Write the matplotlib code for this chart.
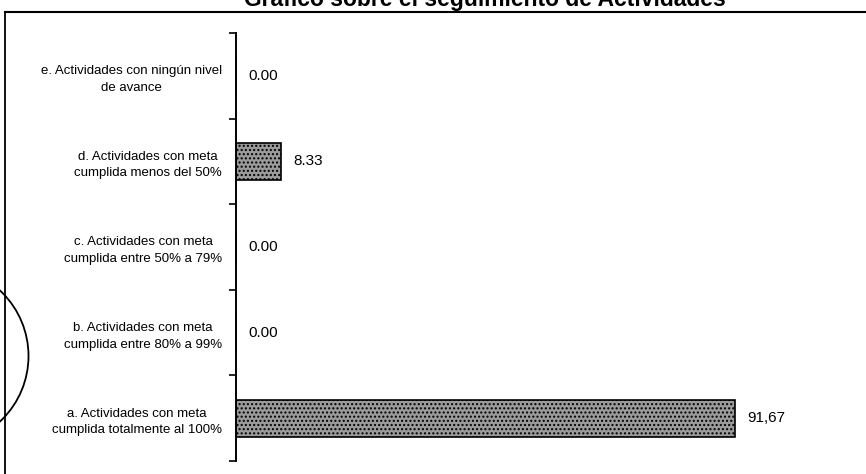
import matplotlib.pyplot as plt
import matplotlib.patches as patches
from matplotlib.lines import Line2D

plt.rcParams['font.family'] = ['Liberation Sans', 'DejaVu Sans']

categorias = ['a. Actividades con meta\ncumplida totalmente al 100%',
              'b. Actividades con meta\ncumplida entre 80% a 99%',
              'c. Actividades con meta\ncumplida entre 50% a 79%',
              'd. Actividades con meta\ncumplida menos del 50%',
              'e. Actividades con ningún nivel\nde avance']
porcentajes = [91.67, 0.00, 0.00, 8.33, 0.00]
etiquetas = ['91,67', '0.00', '0.00', '8.33', '0.00']

W, H = 866, 474
f = plt.figure(figsize=(W / 100, H / 100), dpi=100)
ax = f.add_axes([236 / W, 13 / H, 544 / W, 428 / H])

pos = list(range(len(categorias)))
ax.barh(pos, porcentajes, height=0.43, color='#9b9b9b', edgecolor='black',
        linewidth=1.2, hatch='....')
for y, v, t in zip(pos, porcentajes, etiquetas):
    ax.annotate(t, xy=(v, y), xytext=(9, 0), textcoords='offset points',
                va='center', ha='left', fontsize=11)

ax.set_xlim(0, 100)
ax.set_ylim(-0.5, len(categorias) - 0.5)
ax.set_yticks(pos)
ax.set_yticklabels(categorias, fontsize=9.5, multialignment='center', linespacing=1.5)
ax.set_yticks([p + 0.5 for p in pos[:-1]] + [-0.5, len(categorias) - 0.5], minor=True)
ax.tick_params(axis='y', which='major', length=0, pad=10)
ax.tick_params(axis='y', which='minor', length=5, width=1.2, direction='out')
ax.set_xticks([])
for s in ['top', 'right', 'bottom']:
    ax.spines[s].set_visible(False)
ax.spines['left'].set_linewidth(1.4)

# marco exterior
f.add_artist(Line2D([5 / W, 1], [1 - 12 / H, 1 - 12 / H], color='black', lw=1.5))
f.add_artist(Line2D([5 / W, 5 / W], [0, 1 - 12 / H], color='black', lw=1.3))

# titulo (cortado en el escaneo)
f.text(485 / W, 1 - 6 / H, 'Gráfico sobre el seguimiento de Actividades',
       ha='center', va='baseline', fontsize=16.5, fontweight='bold')

# sello parcial
sello = patches.Ellipse((-61 / W, 1 - 356 / H), 179 / W, 179 / H,
                        transform=f.transFigure, fill=False, edgecolor='black', lw=1.3)
f.add_artist(sello)

f.savefig('out.png', dpi=100)
